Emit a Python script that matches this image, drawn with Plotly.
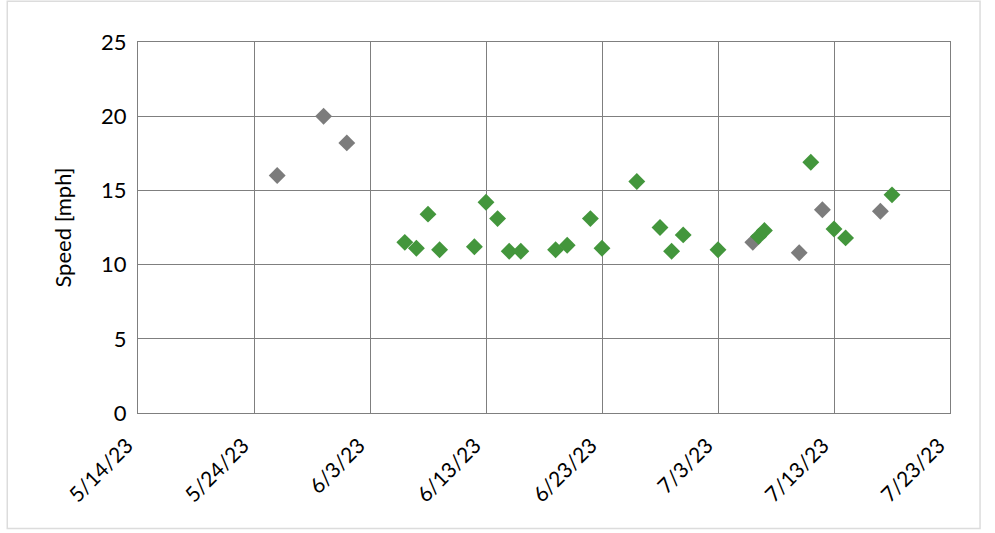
import plotly.graph_objects as go

# Wind speed observations (mph)
gray_dates = ["2023-05-26", "2023-05-30", "2023-06-01", "2023-07-06", "2023-07-10",
              "2023-07-12", "2023-07-17"]
gray_speed = [16.0, 20.0, 18.2, 11.5, 10.8, 13.7, 13.6]

green_dates = ["2023-06-06", "2023-06-07", "2023-06-08", "2023-06-09", "2023-06-12",
               "2023-06-13", "2023-06-14", "2023-06-15", "2023-06-16", "2023-06-19",
               "2023-06-20", "2023-06-22", "2023-06-23", "2023-06-26", "2023-06-28",
               "2023-06-29", "2023-06-30", "2023-07-03", "2023-07-06 12:00", "2023-07-07",
               "2023-07-11", "2023-07-13", "2023-07-14", "2023-07-18"]
green_speed = [11.5, 11.1, 13.4, 11.0, 11.2,
               14.2, 13.1, 10.9, 10.9, 11.0,
               11.3, 13.1, 11.1, 15.6, 12.5,
               10.9, 12.0, 11.0, 11.9, 12.3,
               16.9, 12.4, 11.8, 14.7]

x_ticks = ["2023-05-14", "2023-05-24", "2023-06-03", "2023-06-13",
           "2023-06-23", "2023-07-03", "2023-07-13", "2023-07-23"]
y_ticks = [0, 5, 10, 15, 20, 25]

fig = go.Figure()
fig.add_trace(go.Scatter(
    x=gray_dates, y=gray_speed, mode="markers",
    marker=dict(symbol="diamond", size=13, color="#7c7c7c"),
    showlegend=False,
))
fig.add_trace(go.Scatter(
    x=green_dates, y=green_speed, mode="markers",
    marker=dict(symbol="diamond", size=13, color="#43963c"),
    showlegend=False,
))

font_family = "Lato, Open Sans, sans-serif"

fig.update_layout(
    width=995, height=533,
    margin=dict(l=138, r=45, t=42, b=120),
    paper_bgcolor="white", plot_bgcolor="white",
    font=dict(family=font_family, color="#000000"),
    xaxis=dict(
        type="date",
        range=["2023-05-14", "2023-07-23"],
        tickvals=x_ticks,
        tickformat="%-m/%-d/%y",
        tickangle=-45,
        tickfont=dict(size=21),
        ticklabelstandoff=11,
        ticklabelshift=-11,
        showgrid=True, gridcolor="#7f7f7f", gridwidth=1,
        showline=True, linecolor="#7f7f7f", linewidth=1, mirror=True,
        zeroline=False, ticks="",
    ),
    yaxis=dict(
        range=[0, 25],
        tickvals=y_ticks,
        tickfont=dict(size=22),
        ticklabelstandoff=6,
        title=dict(text="Speed [mph]", font=dict(size=22), standoff=23),
        showgrid=True, gridcolor="#7f7f7f", gridwidth=1,
        showline=True, linecolor="#7f7f7f", linewidth=1, mirror=True,
        zeroline=False, ticks="", ticklen=0,
    ),
)

# light frame around the chart
fig.add_shape(type="rect", xref="paper", yref="paper",
              x0=-0.161, x1=1.037, y0=-0.311, y1=1.11,
              line=dict(color="#dcdcdc", width=1.5), layer="below")

fig.write_html("out.html")
